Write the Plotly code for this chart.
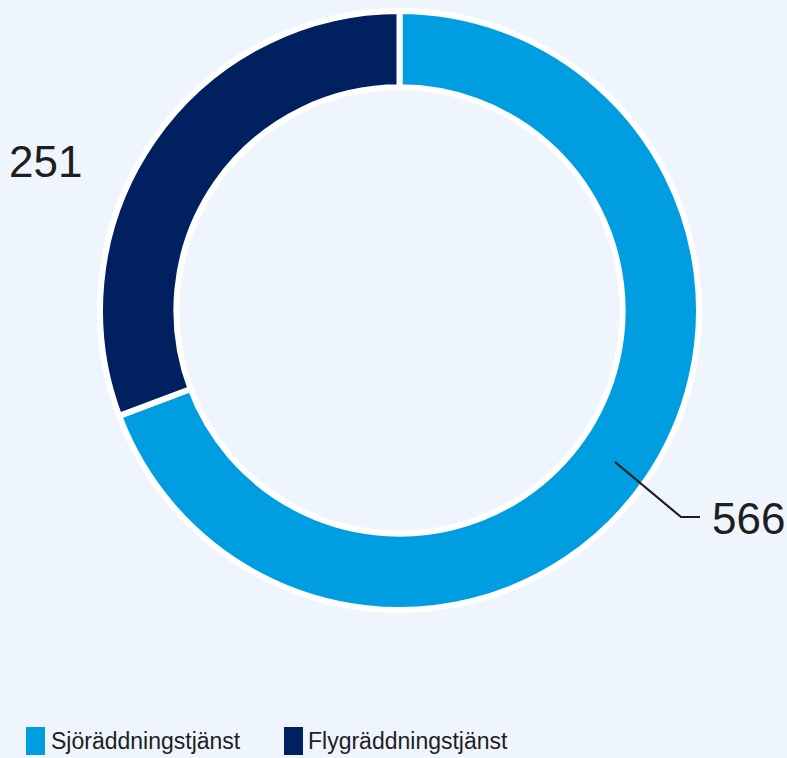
import plotly.graph_objects as go

labels = ["Sjöräddningstjänst", "Flygräddningstjänst"]
values = [566, 251]
colors = ["#009EE0", "#002060"]

W, H = 787, 758
BG = "#EEF5FC"
TXT = "#1E1E1E"

def px(x):
    return x / W

def py(y):
    return 1 - y / H

cx, cy, r = 399.5, 310.5, 299.5

fig = go.Figure(go.Pie(
    labels=labels,
    values=values,
    marker=dict(colors=colors, line=dict(color="white", width=6)),
    hole=0.745,
    sort=False,
    direction="clockwise",
    rotation=0,
    textinfo="none",
    hoverinfo="label+value",
    showlegend=False,
    domain=dict(x=[px(cx - r), px(cx + r)], y=[py(cy + r), py(cy - r)]),
))

annotations = [
    dict(x=px(710), y=py(518), xref="paper", yref="paper", text=str(values[0]),
         showarrow=False, xanchor="left", yanchor="middle",
         font=dict(family="Liberation Sans, Arial, sans-serif", size=44, color=TXT)),
    dict(x=px(7), y=py(161), xref="paper", yref="paper", text=str(values[1]),
         showarrow=False, xanchor="left", yanchor="middle",
         font=dict(family="Liberation Sans, Arial, sans-serif", size=44, color=TXT)),
]

shapes = [
    dict(type="path", xref="paper", yref="paper",
         path=f"M{px(615)},{py(462)} L{px(681)},{py(517)} L{px(700)},{py(517)}",
         line=dict(color=TXT, width=2.2)),
]

# manual legend
leg_items = [(26, 52), (284, 309)]
for i, (sx, tx) in enumerate(leg_items):
    shapes.append(dict(type="rect", xref="paper", yref="paper",
                       x0=px(sx), x1=px(sx + 19), y0=py(755), y1=py(727),
                       fillcolor=colors[i], line=dict(width=0)))
    annotations.append(dict(x=px(tx - 3), y=py(741), xref="paper", yref="paper",
                            text=labels[i], showarrow=False, xanchor="left", yanchor="middle",
                            font=dict(family="Liberation Sans, Arial, sans-serif",
                                      size=23, color=TXT)))

fig.update_layout(
    width=W, height=H,
    margin=dict(l=0, r=0, t=0, b=0),
    paper_bgcolor=BG, plot_bgcolor=BG,
    annotations=annotations,
    shapes=shapes,
    showlegend=False,
)

fig.write_html("out.html", config=dict(displayModeBar=False),
               post_script="document.body.style.margin='0';document.body.style.overflow='hidden';")
